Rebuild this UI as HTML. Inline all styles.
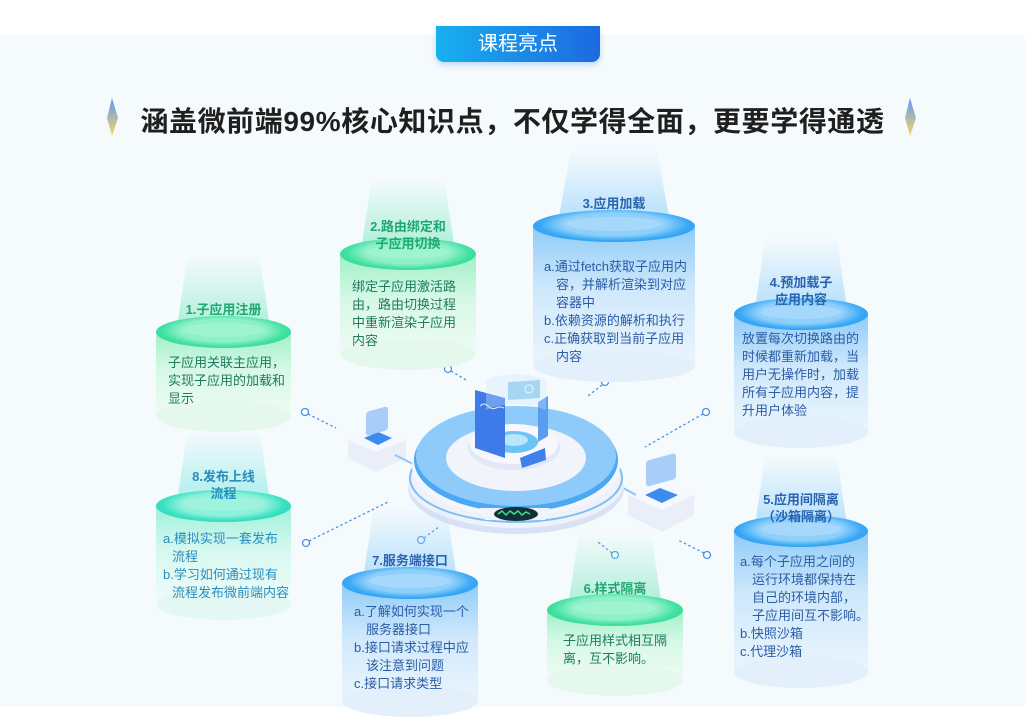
<!DOCTYPE html>
<html><head><meta charset="utf-8">
<style>
*{margin:0;padding:0;box-sizing:border-box}
body{width:1025px;height:707px;overflow:hidden;background:#fff;font-family:"Liberation Sans","Noto Sans CJK SC",sans-serif;position:relative}
.bg{position:absolute;left:0;top:35px;width:1025px;height:672px;background:#f5fafd}
.tab{position:absolute;left:436px;top:26px;width:164px;height:36px;border-radius:0 0 8px 8px;background:linear-gradient(90deg,#17b0f0,#1d69e0);color:#fff;font-size:20px;text-align:center;line-height:36px;box-shadow:0 3px 6px rgba(30,120,230,.25)}
.h1{position:absolute;left:0;width:1025px;top:100px;text-align:center;font-size:28px;font-weight:bold;color:#1f1f1f;letter-spacing:0.6px}
.cyl{position:absolute}
.beam{position:absolute;top:-60px;height:76px;left:15%;width:70%;clip-path:polygon(12% 0,88% 0,100% 100%,0 100%)}
.body{position:absolute;left:0;width:100%;top:16px}
.bot{position:absolute;left:0;width:100%;height:32px;border-radius:50%}
.top{position:absolute;left:0;top:0;width:100%;height:32px;border-radius:50%}
.inner{position:absolute;left:20%;top:7px;width:60%;height:14px;border-radius:50%}
.tt{position:absolute;left:0;width:100%;text-align:center;font-size:13px;font-weight:bold;line-height:17px}
.tx{position:absolute;left:12px;right:0;font-size:13px;line-height:18px;white-space:nowrap}
.g .beam{background:linear-gradient(180deg,rgba(200,245,230,0),rgba(150,235,205,.8))}
.g .top{background:radial-gradient(ellipse at 50% 45%,#8ff0c8 0,#8ff0c8 45%,#3fe0a0 65%,#22d68f 100%)}
.g .body{background:linear-gradient(180deg,#9ef0c6 0,#d6f8e6 45%,#effcf5 100%)}
.g .bot{background:#e4f8ee}
.g .tt{color:#1fa872}.g .tx{color:#207a5e}
.b .beam{background:linear-gradient(180deg,rgba(200,235,250,0),rgba(160,215,250,.8))}
.b .top{background:radial-gradient(ellipse at 50% 45%,#8fd0fb 0,#8fd0fb 45%,#38a8f5 65%,#1f8ef0 100%)}
.b .body{background:linear-gradient(180deg,#8ecbf8 0,#cfe8fb 45%,#eaf5fd 100%)}
.b .bot{background:#e3f0fb}
.b .tt{color:#2a63b0}.b .tx{color:#2b5ca6}
.c .beam{background:linear-gradient(180deg,rgba(200,245,245,0),rgba(150,235,230,.8))}
.c .top{background:radial-gradient(ellipse at 50% 45%,#8ff0dc 0,#8ff0dc 45%,#36e0c0 65%,#22d6ae 100%)}
.c .body{background:linear-gradient(180deg,#9ef0dc 0,#d6f8f0 45%,#effcf9 100%)}
.c .bot{background:#e4f8f3}
.c .tt{color:#2a8dc0}.c .tx{color:#2a8dc0}
.in{padding-left:12px;display:block}
</style></head><body>
<div class="bg"></div>
<div class="tab">课程亮点</div>
<div class="h1">涵盖微前端99%核心知识点，不仅学得全面，更要学得通透</div>
<svg style="position:absolute;left:0;top:0" width="1025" height="707">
<defs><linearGradient id="sp" x1="0" y1="0" x2="0" y2="1"><stop offset="0" stop-color="#3a7ef0"/><stop offset="1" stop-color="#f5d040"/></linearGradient></defs>
<path d="M112 98 L118 118 L112 136 L107 118Z" fill="url(#sp)" opacity=".8"/>
<path d="M910 98 L916 118 L910 136 L905 118Z" fill="url(#sp)" opacity=".8"/>
</svg>

<svg style="position:absolute;left:0;top:0" width="1025" height="707">
<g stroke="#4a90e8" stroke-width="1.3" stroke-dasharray="2.5,2.5" fill="none">
<line x1="308" y1="414" x2="336" y2="428"/>
<line x1="451" y1="371" x2="466" y2="380"/>
<line x1="602" y1="385" x2="588" y2="396"/>
<line x1="703" y1="414" x2="645" y2="447"/>
<line x1="309" y1="541" x2="388" y2="502"/>
<line x1="424" y1="538" x2="440" y2="526"/>
<line x1="612" y1="553" x2="598" y2="542"/>
<line x1="704" y1="553" x2="678" y2="540"/>
</g>
<g stroke="#4a90e8" stroke-width="1.3" fill="#fff">
<circle cx="305" cy="412" r="3.5"/><circle cx="448" cy="369" r="3.5"/>
<circle cx="605" cy="382" r="3.5"/><circle cx="706" cy="412" r="3.5"/>
<circle cx="306" cy="543" r="3.5"/><circle cx="421" cy="540" r="3.5"/>
<circle cx="615" cy="555" r="3.5"/><circle cx="707" cy="555" r="3.5"/>
</g>
<path d="M348 440 L378 428 L406 440 L406 458 L376 472 L348 458Z" fill="#e9eef9"/>
<path d="M348 440 L376 452 L406 440 L378 428Z" fill="#f5f8fe"/>
<path d="M364 438 L378 432 L392 438 L378 445Z" fill="#3c8cf0"/>
<rect x="366" y="410" width="22" height="24" rx="3" fill="#a9cdf8" transform="skewY(-15) translate(0,100)"/>
<line x1="395" y1="455" x2="425" y2="470" stroke="#8fc4f8" stroke-width="2"/>
<path d="M628 495 L660 480 L694 495 L694 515 L662 532 L628 515Z" fill="#e9eef9"/>
<path d="M628 495 L662 510 L694 495 L660 480Z" fill="#f5f8fe"/>
<path d="M645 495 L660 488 L678 495 L662 503Z" fill="#3c8cf0"/>
<rect x="646" y="456" width="30" height="26" rx="3" fill="#a9cdf8" transform="skewY(-15) translate(0,178)"/>
<line x1="605" y1="478" x2="636" y2="495" stroke="#8fc4f8" stroke-width="2"/>
<ellipse cx="516" cy="488" rx="108" ry="46" fill="#d8e2f4"/>
<ellipse cx="516" cy="482" rx="108" ry="46" fill="#eef2fb"/>
<ellipse cx="516" cy="478" rx="106" ry="44" fill="none" stroke="#7ec0f5" stroke-width="2"/>
<ellipse cx="516" cy="466" rx="104" ry="50" fill="#f4f6fc"/>
<ellipse cx="516" cy="460" rx="102" ry="52" fill="#4aa8f5"/>
<ellipse cx="516" cy="456" rx="100" ry="50" fill="#8fcbfa"/>
<ellipse cx="516" cy="458" rx="70" ry="33" fill="#f2f4fb"/>
<path d="M480 508 L550 508 L545 520 L485 520Z" fill="#f2f4fb"/>
<ellipse cx="516" cy="514" rx="22" ry="7" fill="#12303a"/>
<path d="M498 514 l4 -3 l4 4 l4 -4 l4 3 l4 -3 l4 4 l4 -3 l4 2" stroke="#3fe08a" stroke-width="1.5" fill="none"/>
<ellipse cx="514" cy="448" rx="46" ry="22" fill="#e3e8f6"/>
<ellipse cx="514" cy="444" rx="44" ry="20" fill="#f7f8fd"/>
<ellipse cx="514" cy="442" rx="24" ry="11" fill="#6cc4f6"/>
<ellipse cx="514" cy="440" rx="14" ry="6" fill="#b8e6fb"/>
<path d="M475 390 L505 398 L505 458 L475 448Z" fill="#3e7ae8"/>
<path d="M480 406 q4 -4 8 0 t8 2 t8 0" stroke="#dbeafe" fill="none"/>
<path d="M508 382 L540 380 L540 398 L508 400Z" fill="#8fd0f0"/>
<circle cx="529" cy="389" r="4" fill="none" stroke="#fff"/>
<path d="M538 402 L548 396 L548 436 L538 442Z" fill="#5a9cf0"/>
<path d="M520 458 L545 448 L546 460 L522 468Z" fill="#3e80ec"/>
<path d="M486 380 Q514 368 546 380 L546 410 Q514 398 486 410Z" fill="#cfe6fb" opacity=".35"/>
</svg>

<div class="cyl g" style="left:156px;top:316px;width:135px;height:116px">
<div class="beam"></div><div class="body" style="height:84px"></div><div class="bot" style="top:84px"></div><div class="top"><div class="inner" style="background:#9ef3d0"></div></div>
<div class="tt" style="top:-15px">1.子应用注册</div>
<div class="tx" style="top:38px;left:12px">子应用关联主应用，<br>实现子应用的加载和<br>显示</div>
</div>
<div class="cyl g" style="left:340px;top:238px;width:136px;height:132px">
<div class="beam"></div><div class="body" style="height:100px"></div><div class="bot" style="top:100px"></div><div class="top"><div class="inner" style="background:#9ef3d0"></div></div>
<div class="tt" style="top:-20px">2.路由绑定和<br>子应用切换</div>
<div class="tx" style="top:40px;left:12px">绑定子应用激活路<br>由，路由切换过程<br>中重新渲染子应用<br>内容</div>
</div>
<div class="cyl b" style="left:533px;top:210px;width:162px;height:172px">
<div class="beam"></div><div class="body" style="height:140px"></div><div class="bot" style="top:140px"></div><div class="top"><div class="inner" style="background:#a6d8fb"></div></div>
<div class="tt" style="top:-15px">3.应用加载</div>
<div class="tx" style="top:48px;left:11px">a.通过fetch获取子应用内<span class="in">容，并解析渲染到对应</span><span class="in">容器中</span>b.依赖资源的解析和执行<br>c.正确获取到当前子应用<span class="in">内容</span></div>
</div>
<div class="cyl b" style="left:734px;top:298px;width:134px;height:150px">
<div class="beam"></div><div class="body" style="height:118px"></div><div class="bot" style="top:118px"></div><div class="top"><div class="inner" style="background:#a6d8fb"></div></div>
<div class="tt" style="top:-24px">4.预加载子<br>应用内容</div>
<div class="tx" style="top:32px;left:8px">放置每次切换路由的<br>时候都重新加载，当<br>用户无操作时，加载<br>所有子应用内容，提<br>升用户体验</div>
</div>
<div class="cyl b" style="left:734px;top:515px;width:134px;height:173px">
<div class="beam"></div><div class="body" style="height:141px"></div><div class="bot" style="top:141px"></div><div class="top"><div class="inner" style="background:#a6d8fb"></div></div>
<div class="tt" style="top:-24px">5.应用间隔离<br>（沙箱隔离）</div>
<div class="tx" style="top:38px;left:6px">a.每个子应用之间的<span class="in">运行环境都保持在</span><span class="in">自己的环境内部，</span><span class="in">子应用间互不影响。</span>b.快照沙箱<br>c.代理沙箱</div>
</div>
<div class="cyl g" style="left:547px;top:594px;width:136px;height:102px">
<div class="beam"></div><div class="body" style="height:70px"></div><div class="bot" style="top:70px"></div><div class="top"><div class="inner" style="background:#9ef3d0"></div></div>
<div class="tt" style="top:-14px">6.样式隔离</div>
<div class="tx" style="top:38px;left:16px">子应用样式相互隔<br>离，互不影响。</div>
</div>
<div class="cyl b" style="left:342px;top:567px;width:136px;height:150px">
<div class="beam"></div><div class="body" style="height:118px"></div><div class="bot" style="top:118px"></div><div class="top"><div class="inner" style="background:#a6d8fb"></div></div>
<div class="tt" style="top:-15px">7.服务端接口</div>
<div class="tx" style="top:36px;left:12px">a.了解如何实现一个<span class="in">服务器接口</span>b.接口请求过程中应<span class="in">该注意到问题</span>c.接口请求类型</div>
</div>
<div class="cyl c" style="left:156px;top:490px;width:135px;height:130px">
<div class="beam"></div><div class="body" style="height:98px"></div><div class="bot" style="top:98px"></div><div class="top"><div class="inner" style="background:#9ef3df"></div></div>
<div class="tt" style="top:-22px">8.发布上线<br>流程</div>
<div class="tx" style="top:40px;left:7px">a.模拟实现一套发布<span class="in" style="padding-left:9px">流程</span>b.学习如何通过现有<span class="in" style="padding-left:9px">流程发布微前端内容</span></div>
</div>
</body></html>
